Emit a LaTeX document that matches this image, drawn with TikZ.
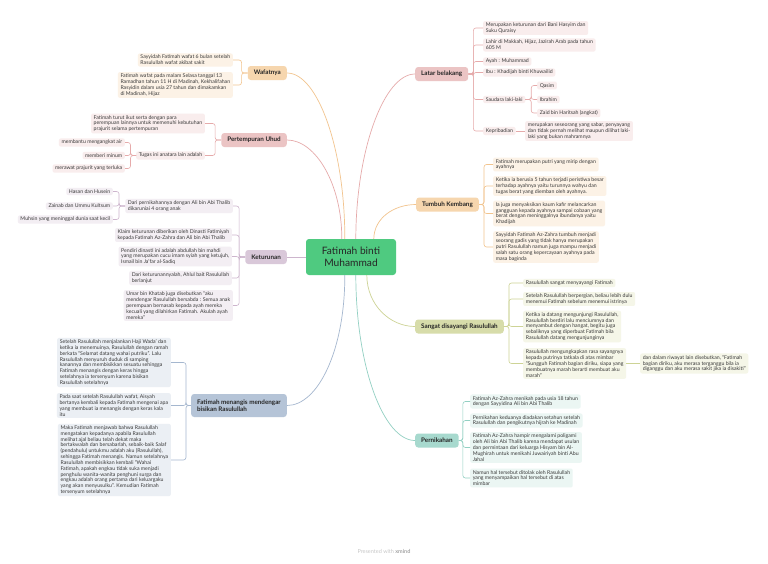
\documentclass[tikz,border=0pt]{standalone}
\usepackage{fontspec}
\setmainfont{Lato}
\usetikzlibrary{calc}
\definecolor{cgreen}{HTML}{4FCA80}
\definecolor{orT}{HTML}{F6D6AE}\definecolor{orL}{HTML}{FCF2E6}\definecolor{orC}{HTML}{F2C48E}
\definecolor{pkT}{HTML}{EBC4C4}\definecolor{pkL}{HTML}{F9EDED}\definecolor{pkC}{HTML}{E6AAAA}
\definecolor{puT}{HTML}{D9C8D9}\definecolor{puL}{HTML}{F3EEF3}\definecolor{puC}{HTML}{CDB5CD}
\definecolor{olT}{HTML}{D7DCAA}\definecolor{olL}{HTML}{F5F6E8}\definecolor{olC}{HTML}{CDD395}
\definecolor{tlT}{HTML}{A7D9CE}\definecolor{tlL}{HTML}{EBF6F3}\definecolor{tlC}{HTML}{93D0C3}
\definecolor{blT}{HTML}{B5C4D7}\definecolor{blL}{HTML}{EBEFF4}\definecolor{blC}{HTML}{A5B7CF}
\definecolor{leaftext}{HTML}{3A3A3A}
\begin{document}
\begin{tikzpicture}[x=1pt,y=-1pt,
  leaf/.style={rounded corners=2pt, inner xsep=2.6pt, inner ysep=1.7pt, align=left,
    font=\fontsize{5.2}{5.85}\selectfont, text=leaftext},
  topic/.style={rounded corners=3pt, inner xsep=6pt, inner ysep=3pt, minimum height=14pt, align=left,
    font=\fontsize{6.3}{7.6}\selectfont\bfseries, text=black!85},
  conn/.style={line width=0.6pt, rounded corners=2.5pt},
  mainconn/.style={line width=0.7pt}]
\useasboundingbox (0,0) rectangle (768,563);
\fill[white] (0,0) rectangle (768,563);

% central topic
\node[rounded corners=3pt, fill=cgreen, minimum width=90pt, minimum height=36pt, align=center,
  font=\fontsize{10.2}{12}\selectfont, text=black!85] (C) at (351,257) {Fatimah binti\\Muhammad};

% ---------- main topics ----------
\node[topic, fill=pkT, anchor=west] (LB) at (415,74) {Latar belakang};
\node[topic, fill=orT, anchor=west] (TK) at (416,204.5) {Tumbuh Kembang};
\node[topic, fill=olT, anchor=west] (SD) at (415,326.5) {Sangat disayangi Rasulullah};
\node[topic, fill=tlT, anchor=west] (PN) at (415,440.5) {Pernikahan};
\node[topic, fill=orT, anchor=east] (WF) at (287,73) {Wafatnya};
\node[topic, fill=pkT, anchor=east] (PU) at (287,140) {Pertempuran Uhud};
\node[topic, fill=puT, anchor=east] (KT) at (287,257) {Keturunan};
\node[topic, fill=blT, anchor=east, minimum height=23pt] (FM) at (287,405.5) {Fatimah menangis mendengar\\bisikan Rasulullah};

% central connectors
\coordinate (sWF) at ($(C.north west)+(39,0)$);
\coordinate (sPU) at ($(C.north west)+(36,0)$);
\coordinate (sLB) at ($(C.north west)+(50,0)$);
\coordinate (sTK) at ($(C.north west)+(68,0)$);
\coordinate (sFM) at ($(C.south west)+(39,0)$);
\coordinate (sSD) at ($(C.south west)+(61,0)$);
\coordinate (sPN) at ($(C.south west)+(50,0)$);
\draw[mainconn, orC] (sWF) .. controls (345,150) and (318,73) .. (WF.east);
\draw[mainconn, pkC] (sPU) .. controls (342,185) and (316,140) .. (PU.east);
\draw[mainconn, pkC] (sLB) .. controls (356,150) and (384,74) .. (LB.west);
\draw[mainconn, orC] (sTK) .. controls (374,218) and (394,204.5) .. (TK.west);
\draw[mainconn, puC] (C.west) -- (KT.east);
\draw[mainconn, blC] (sFM) .. controls (345,350) and (318,405.5) .. (FM.east);
\draw[mainconn, olC] (sSD) .. controls (367,305) and (390,326.5) .. (SD.west);
\draw[mainconn, tlC] (sPN) .. controls (356,368) and (384,440.5) .. (PN.west);

% ---------- Latar belakang ----------
\node[leaf, fill=pkL, anchor=west] (lb1) at (483,28) {Merupakan keturunan dari Bani Hasyim dan\\Suku Quraisy};
\node[leaf, fill=pkL, anchor=west] (lb2) at (483,45) {Lahir di Makkah, Hijaz, Jazirah Arab pada tahun\\605 M};
\node[leaf, fill=pkL, anchor=west] (lb3) at (483,61.5) {Ayah : Muhammad};
\node[leaf, fill=pkL, anchor=west] (lb4) at (483,72.5) {Ibu : Khadijah binti Khuwailid};
\node[leaf, fill=pkL, anchor=west] (lb5) at (483,99.5) {Saudara laki-laki};
\node[leaf, fill=pkL, anchor=west] (lb6) at (483,131) {Kepribadian};
\node[leaf, fill=pkL, anchor=west] (q1) at (537,85.5) {Qasim};
\node[leaf, fill=pkL, anchor=west] (q2) at (537,99.5) {Ibrahim};
\node[leaf, fill=pkL, anchor=west] (q3) at (537,113) {Zaid bin Haritsah (angkat)};
\node[leaf, fill=pkL, anchor=west] (kp) at (525,131) {merupakan seseorang yang sabar, penyayang\\dan tidak pernah melihat maupun dilihat laki-\\laki yang bukan mahramnya};
\coordinate (jLB) at ($(LB.east)+(5,0)$);
\foreach \c in {lb1,lb2,lb3,lb4,lb5,lb6}{\draw[conn, pkC] (LB.east) -- (jLB) |- (\c.west);}
\coordinate (jS) at ($(lb5.east)!0.5!(lb5.east -| q2.west)$);
\foreach \c in {q1,q2,q3}{\draw[conn, pkC] (lb5.east) -- (jS) |- (\c.west);}
\draw[conn, pkC] (lb6.east) -- (kp.west);

% ---------- Tumbuh Kembang ----------
\node[leaf, fill=orL, anchor=west] (tk1) at (493,164.5) {Fatimah merupakan putri yang mirip dengan\\ayahnya};
\node[leaf, fill=orL, anchor=west] (tk2) at (493,186) {Ketika ia berusia 5 tahun terjadi peristiwa besar\\terhadap ayahnya yaitu turunnya wahyu dan\\tugas berat yang diemban oleh ayahnya.};
\node[leaf, fill=orL, anchor=west] (tk3) at (493,213.5) {Ia juga menyaksikan kaum kafir melancarkan\\gangguan kepada ayahnya sampai cobaan yang\\berat dengan meninggalnya ibundanya yaitu\\Khadijah};
\node[leaf, fill=orL, anchor=west] (tk4) at (493,247) {Sayyidah Fatimah Az-Zahra tumbuh menjadi\\seorang gadis yang tidak hanya merupakan\\putri Rasulullah namun juga mampu menjadi\\salah satu orang kepercayaan ayahnya pada\\masa baginda};
\coordinate (jTK) at ($(TK.east)+(5,0)$);
\foreach \c in {tk1,tk2,tk3,tk4}{\draw[conn, orC] (TK.east) -- (jTK) |- (\c.west);}

% ---------- Sangat disayangi ----------
\node[leaf, fill=olL, anchor=west] (sd1) at (523,283) {Rasulullah sangat menyayangi Fatimah};
\node[leaf, fill=olL, anchor=west] (sd2) at (523,299) {Setelah Rasulullah berpergian, beliau lebih dulu\\menemui Fatimah sebelum menemui istrinya};
\node[leaf, fill=olL, anchor=west] (sd3) at (523,326.5) {Ketika ia datang mengunjungi Rasulullah,\\Rasulullah berdiri lalu menciumnya dan\\menyambut dengan hangat, begitu juga\\sebaliknya yang diperbuat Fatimah bila\\Rasulullah datang mengunjunginya};
\node[leaf, fill=olL, anchor=west] (sd4) at (523,363.5) {Rasulullah mengungkapkan rasa sayangnya\\kepada putrinya tatkala di atas mimbar\\``Sungguh Fatimah bagian diriku, siapa yang\\membuatnya marah berarti membuat aku\\marah''};
\node[leaf, fill=olL, anchor=west] (sd5) at (640,363.5) {dan dalam riwayat lain disebutkan, ``Fatimah\\bagian diriku, aku merasa terganggu bila ia\\diganggu dan aku merasa sakit jika ia disakiti''};
\coordinate (jSD) at ($(SD.east)+(5,0)$);
\foreach \c in {sd1,sd2,sd3,sd4}{\draw[conn, olC] (SD.east) -- (jSD) |- (\c.west);}
\draw[conn, olC] (sd4.east) -- (sd5.west);

% ---------- Pernikahan ----------
\node[leaf, fill=tlL, anchor=west] (pn1) at (470,401.5) {Fatimah Az-Zahra menikah pada usia 18 tahun\\dengan Sayyidina Ali bin Abi Thalib};
\node[leaf, fill=tlL, anchor=west] (pn2) at (470,420.5) {Pernikahan keduanya diadakan setahun setelah\\Rasulullah dan pengikutnya hijrah ke Madinah};
\node[leaf, fill=tlL, anchor=west] (pn3) at (470,447.5) {Fatimah Az-Zahra hampir mengalami poligami\\oleh Ali bin Abi Thalib karena mendapat usulan\\dan permintaan dari keluarga Hisyam bin Al-\\Mughirah untuk menikahi Juwairiyah binti Abu\\Jahal};
\node[leaf, fill=tlL, anchor=west] (pn4) at (470,478) {Namun hal tersebut ditolak oleh Rasulullah\\yang menyampaikan hal tersebut di atas\\mimbar};
\coordinate (jPN) at ($(PN.east)+(4,0)$);
\foreach \c in {pn1,pn2,pn3,pn4}{\draw[conn, tlC] (PN.east) -- (jPN) |- (\c.west);}

% ---------- Wafatnya ----------
\node[leaf, fill=orL, anchor=east] (wf1) at (233,60) {Sayyidah Fatimah wafat 6 bulan setelah\\Rasulullah wafat akibat sakit};
\node[leaf, fill=orL, anchor=east] (wf2) at (233,85) {Fatimah wafat pada malam Selasa tanggal 13\\Ramadhan tahun 11 H di Madinah, Kekhalifahan\\Rasyidin dalam usia 27 tahun dan dimakamkan\\di Madinah, Hijaz};
\coordinate (jWF) at ($(WF.west)+(-6,0)$);
\foreach \c in {wf1,wf2}{\draw[conn, orC] (WF.west) -- (jWF) |- (\c.east);}

% ---------- Pertempuran Uhud ----------
\node[leaf, fill=pkL, anchor=east] (pu1) at (205,123.5) {Fatimah turut ikut serta dengan para\\perempuan lainnya untuk memenuhi kebutuhan\\prajurit selama pertempuran};
\node[leaf, fill=pkL, anchor=east] (pu2) at (205,155.5) {Tugas ini anatara lain adalah};
\node[leaf, fill=pkL, anchor=east] (pu21) at (125,142.5) {membantu mengangkat air};
\node[leaf, fill=pkL, anchor=east] (pu22) at (125,155.5) {memberi minum};
\node[leaf, fill=pkL, anchor=east] (pu23) at (125,168.5) {merawat prajurit yang terluka};
\coordinate (jPU) at ($(PU.west)+(-6,0)$);
\foreach \c in {pu1,pu2}{\draw[conn, pkC] (PU.west) -- (jPU) |- (\c.east);}
\coordinate (jPU2) at ($(pu2.west)!0.5!(pu2.west -| pu22.east)$);
\foreach \c in {pu21,pu22,pu23}{\draw[conn, pkC] (pu2.west) -- (jPU2) |- (\c.east);}

% ---------- Keturunan ----------
\node[leaf, fill=puL, anchor=east] (kt1) at (233,206) {Dari pernikahannya dengan Ali bin Abi Thalib\\dikaruniai 4 orang anak};
\node[leaf, fill=puL, anchor=east] (kt2) at (232,235) {Klaim keturunan diberikan oleh Dinasti Fatimiyah\\kepada Fatimah Az-Zahra dan Ali bin Abi Thalib};
\node[leaf, fill=puL, anchor=east] (kt3) at (232,256.5) {Pendiri dinasti ini adalah abdullah bin mahdi\\yang merupakan cucu imam syiah yang ketujuh,\\Ismail bin Ja'far al-Sadiq};
\node[leaf, fill=puL, anchor=east] (kt4) at (232,278) {Dari keturunannyalah, Ahlul bait Rasulullah\\berlanjut};
\node[leaf, fill=puL, anchor=east] (kt5) at (233,305.5) {Umar bin Khatab juga disebutkan ``aku\\mendengar Rasulullah bersabda : Semua anak\\perempuan bernasab kepada ayah mereka\\kecuali yang dilahirkan Fatimah. Akulah ayah\\mereka''};
\node[leaf, fill=puL, anchor=east] (kt11) at (113,191.5) {Hasan dan Husein};
\node[leaf, fill=puL, anchor=east] (kt12) at (113,206) {Zainab dan Ummu Kultsum};
\node[leaf, fill=puL, anchor=east] (kt13) at (113,219.5) {Muhsin yang meninggal dunia saat kecil};
\coordinate (jKT) at ($(KT.west)+(-6,0)$);
\foreach \c in {kt1,kt2,kt3,kt4,kt5}{\draw[conn, puC] (KT.west) -- (jKT) |- (\c.east);}
\coordinate (jKT1) at ($(kt1.west)!0.5!(kt1.west -| kt12.east)$);
\foreach \c in {kt11,kt12,kt13}{\draw[conn, puC] (kt1.west) -- (jKT1) |- (\c.east);}

% ---------- Fatimah menangis ----------
\node[leaf, fill=blL, anchor=east] (fm1) at (171,362.5) {Setelah Rasulullah menjalankan Haji Wada' dan\\ketika ia menemuinya, Rasulullah dengan ramah\\berkata ``Selamat datang wahai putriku''. Lalu\\Rasulullah menyuruh duduk di samping\\kanannya dan membisikkan sesuatu sehingga\\Fatimah menangis dengan keras hingga\\setelahnya ia tersenyum karena bisikan\\Rasulullah setelahnya};
\node[leaf, fill=blL, anchor=east] (fm2) at (171,405.5) {Pada saat setelah Rasulullah wafat, Aisyah\\bertanya kembali kepada Fatimah mengenai apa\\yang membuat ia menangis dengan keras kala\\itu};
\node[leaf, fill=blL, anchor=east] (fm3) at (171,460) {Maka Fatimah menjawab bahwa Rasulullah\\mengatakan kepadanya apabila Rasulullah\\melihat ajal beliau telah dekat maka\\bertakwalah dan bersabarlah, sebaik-baik Salaf\\(pendahulu) untukmu adalah aku (Rasulullah),\\sehingga Fatimah menangis. Namun setelahnya\\Rasulullah membisikkan kembali ``Wahai\\Fatimah, apakah engkau tidak suka menjadi\\penghulu wanita-wanita penghuni surga dan\\engkau adalah orang pertama dari keluargaku\\yang akan menyusulku''. Kemudian Fatimah\\tersenyum setelahnya};
\coordinate (jFM) at ($(FM.west)+(-5,0)$);
\foreach \c in {fm1,fm2,fm3}{\draw[conn, blC] (FM.west) -- (jFM) |- (\c.east);}

% footer
\node[font=\fontsize{5.5}{6.5}\selectfont, text=black!22] (ft) at (384,551) {Presented with \textbf{\color{black!35}xmind}};
\end{tikzpicture}
\end{document}
